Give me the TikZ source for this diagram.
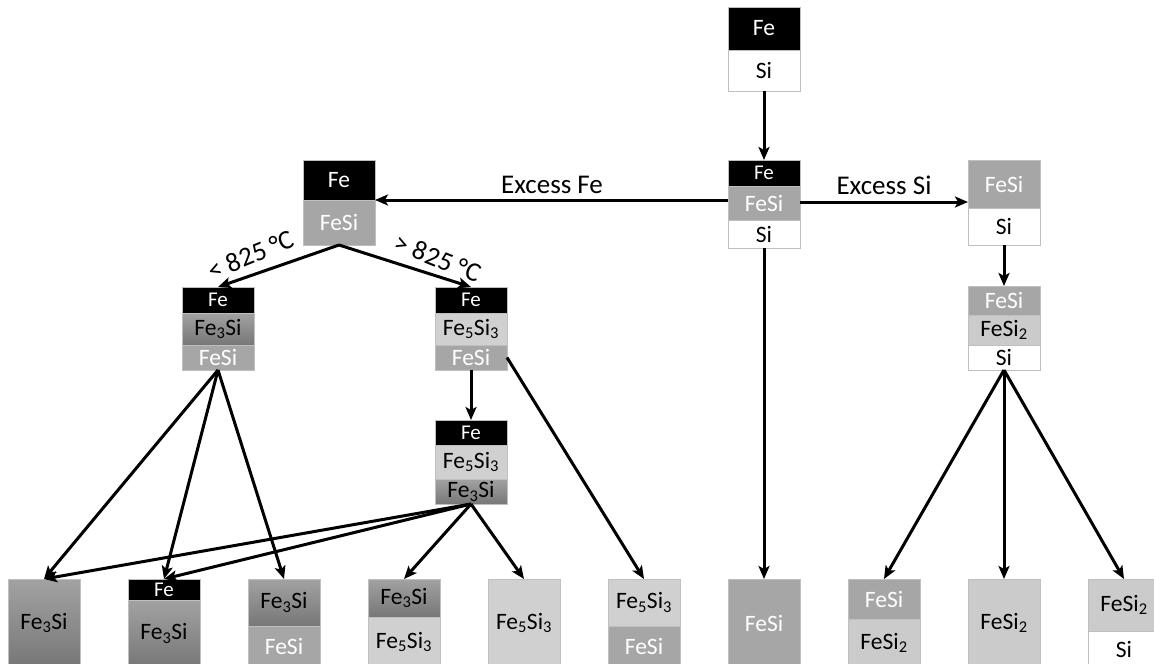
\documentclass[tikz,border=0pt]{standalone}
\usepackage{fontspec}
\setmainfont{Carlito}
\usetikzlibrary{arrows.meta}
\definecolor{bordergray}{HTML}{BFBFBF}
\definecolor{fesigray}{HTML}{A6A6A6}
\definecolor{fethreetop}{HTML}{A2A2A2}
\definecolor{fethreebot}{HTML}{777777}
\definecolor{fefivegray}{HTML}{D0D0D0}
\definecolor{fesitwogray}{HTML}{CBCBCB}
\tikzset{
  lay/.style={draw=bordergray, line width=0.8pt, minimum width=72pt, inner sep=0pt, outer sep=0pt,
              anchor=north west, font=\fontsize{23.5}{23.5}\selectfont},
  cFe/.style={lay, fill=black, text=white},
  cFeSmall/.style={cFe, font=\fontsize{21}{21}\selectfont},
  cFeSi/.style={lay, fill=fesigray, text=white},
  cFeThree/.style={lay, top color=fethreetop, bottom color=fethreebot, text=black},
  cFeFive/.style={lay, fill=fefivegray, text=black},
  cFeSiTwo/.style={lay, fill=fesitwogray, text=black},
  cSi/.style={lay, fill=white, text=black},
  arr/.style={-{Stealth[length=13pt,width=11pt,inset=3pt]}, line width=3pt},
  lbl/.style={font=\fontsize{27}{27}\selectfont, inner sep=0pt}
}
\newcommand{\FeThreeSi}{Fe\textsubscript{3}Si}
\newcommand{\FeFiveSiThree}{Fe\textsubscript{5}Si\textsubscript{3}}
\newcommand{\FeSiTwo}{FeSi\textsubscript{2}}
\begin{document}
\begin{tikzpicture}[x=1pt,y=-1pt]
\useasboundingbox (0,0) rectangle (1154,664);
% top box A
\node[cFe, minimum height=43pt] (Afe) at (728,7) {Fe};
\node[cSi, minimum height=41pt] (Asi) at (728,50) {Si};
% center box B
\node[cFeSmall, minimum height=26pt] (Bfe) at (728,160) {Fe};
\node[cFeSi, minimum height=34pt] (Bfesi) at (728,186) {FeSi};
\node[cSi, minimum height=28pt] (Bsi) at (728,220) {Si};
% right box C
\node[cFeSi, minimum height=48pt] (Cfesi) at (968,160) {FeSi};
\node[cSi, minimum height=37pt] (Csi) at (968,208) {Si};
% left top box D
\node[cFe, minimum height=40pt] (Dfe) at (303,160) {Fe};
\node[cFeSi, minimum height=45pt] (Dfesi) at (303,200) {FeSi};
% box E
\node[cFeSmall, minimum height=26pt] (Efe) at (182,287) {Fe};
\node[cFeThree, minimum height=32pt] (Efethree) at (182,313) {\FeThreeSi};
\node[cFeSi, minimum height=25pt] (Efesi) at (182,345) {FeSi};
% box F
\node[cFeSmall, minimum height=26pt] (Ffe) at (435,287) {Fe};
\node[cFeFive, minimum height=32pt] (Ffefive) at (435,313) {\FeFiveSiThree};
\node[cFeSi, minimum height=25pt] (Ffesi) at (435,345) {FeSi};
% box G
\node[cFeSmall, minimum height=25pt] (Gfe) at (435,420) {Fe};
\node[cFeFive, minimum height=34pt] (Gfefive) at (435,445) {\FeFiveSiThree};
\node[cFeThree, minimum height=25pt] (Gfethree) at (435,479) {\FeThreeSi};
% box H
\node[cFeSi, minimum height=29pt] (Hfesi) at (968,286) {FeSi};
\node[cFeSiTwo, minimum height=30pt] (Hfesitwo) at (968,315) {\FeSiTwo};
\node[cSi, minimum height=25pt] (Hsi) at (968,345) {Si};
% bottom row
\node[cFeThree, minimum height=88pt] (bone) at (8,579) {\FeThreeSi};
\node[cFeSmall, minimum height=21pt] (btwofe) at (128,579) {Fe};
\node[cFeThree, minimum height=67pt] (btwo) at (128,600) {\FeThreeSi};
\node[cFeThree, minimum height=47pt] (bthree) at (248,579) {\FeThreeSi};
\node[cFeSi, minimum height=41pt] (bthreefesi) at (248,626) {FeSi};
\node[cFeThree, minimum height=38pt] (bfour) at (368,579) {\FeThreeSi};
\node[cFeFive, minimum height=50pt] (bfourfive) at (368,617) {\FeFiveSiThree};
\node[cFeFive, minimum height=88pt] (bfive) at (488,579) {\FeFiveSiThree};
\node[cFeFive, minimum height=47pt] (bsix) at (608,579) {\FeFiveSiThree};
\node[cFeSi, minimum height=41pt] (bsixfesi) at (608,626) {FeSi};
\node[cFeSi, minimum height=88pt] (bseven) at (728,579) {FeSi};
\node[cFeSi, minimum height=40pt] (beight) at (848,579) {FeSi};
\node[cFeSiTwo, minimum height=48pt] (beighttwo) at (848,619) {\FeSiTwo};
\node[cFeSiTwo, minimum height=88pt] (bnine) at (968,579) {\FeSiTwo};
\node[cFeSiTwo, minimum height=52pt] (bten) at (1088,579) {\FeSiTwo};
\node[cSi, minimum height=36pt] (btensi) at (1088,631) {Si};
% labels
\node[lbl] (exfe) at (552,185) {Excess Fe};
\node[lbl] (exsi) at (884,185) {Excess Si};
\node[lbl, rotate=22] (lowT) at (251,255) {< 825 °C};
\node[lbl, rotate=-22] (highT) at (438,258) {> 825 °C};
% connectors
\draw[arr] (Asi.south) -- (Bfe.north);
\draw[arr] (Bfesi.west |- Dfe.south east) -- (Dfe.south east);
\draw[arr] (Bfesi.east |- 0,202) -- (Cfesi.west |- 0,202);
\draw[arr] (Dfesi.south) -- (Efe.north);
\draw[arr] (Dfesi.south) -- (Ffe.north);
\draw[arr] (Csi.south) -- (Hfesi.north);
\draw[arr] (Ffesi.south) -- (Gfe.north);
\draw[arr] (Efesi.south) -- (bone.north);
\draw[arr] (Efesi.south) -- (btwofe.north);
\draw[arr] (Efesi.south) -- (bthree.north);
\draw[arr] (Gfethree.south) -- (bone.north);
\draw[arr] (Gfethree.south) -- (btwofe.north);
\draw[arr] (Gfethree.south) -- (bfour.north);
\draw[arr] (Gfethree.south) -- (bfive.north);
\draw[arr] (Ffesi.east) -- (bsix.north);
\draw[arr] (Bsi.south) -- (bseven.north);
\draw[arr] (Hsi.south) -- (beight.north);
\draw[arr] (Hsi.south) -- (bnine.north);
\draw[arr] (Hsi.south) -- (bten.north);
\end{tikzpicture}
\end{document}
